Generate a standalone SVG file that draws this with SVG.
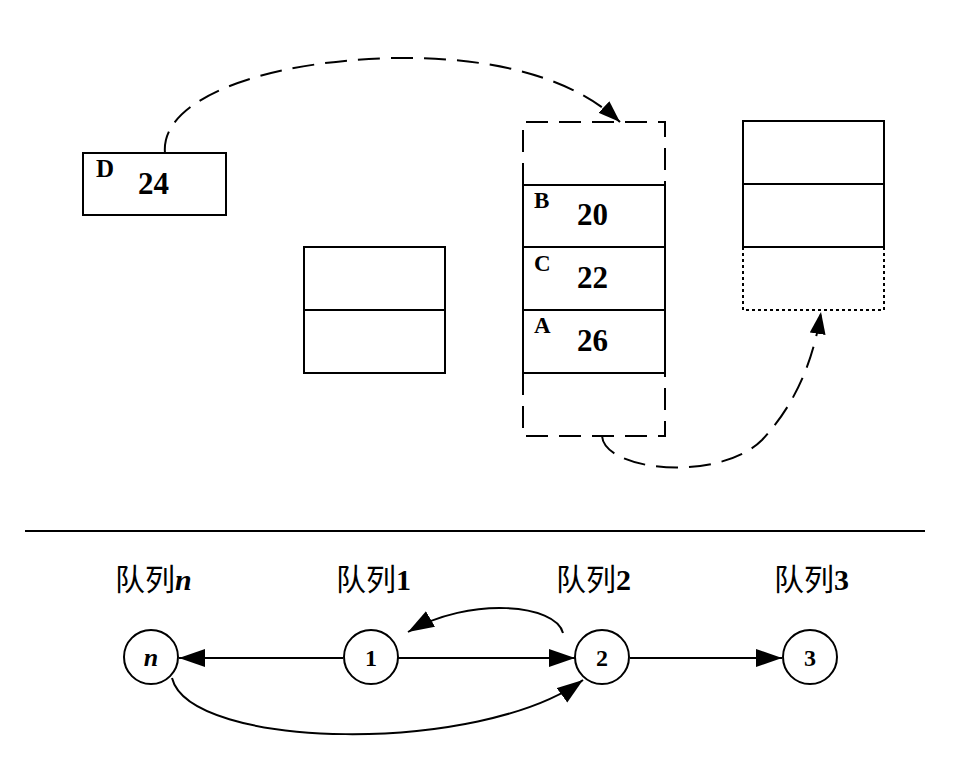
<svg xmlns="http://www.w3.org/2000/svg" width="956" height="774" viewBox="0 0 956 774">
<style>
.s{fill:none;stroke:#000;stroke-width:2}
.d{fill:none;stroke:#000;stroke-width:2;stroke-dasharray:22,11}
.dot{fill:none;stroke:#000;stroke-width:2;stroke-dasharray:3,3}
.t{font-family:"Liberation Serif","Times New Roman",serif;font-weight:bold;fill:#000}
.cjk{font-family:"Liberation Serif","Noto Sans CJK SC",serif;fill:#000;font-size:30px}
.c{fill:#fff;stroke:#000;stroke-width:2}
</style>
<defs>
<marker id="ah" markerUnits="userSpaceOnUse" markerWidth="28" markerHeight="20" refX="26" refY="9" orient="auto">
<path d="M0,0 L26,9 L0,18 Z" fill="#000"/>
</marker>
<marker id="ah2" markerUnits="userSpaceOnUse" markerWidth="24" markerHeight="20" refX="22" refY="8" orient="auto">
<path d="M0,0 L22,8 L0,16 Z" fill="#000"/>
</marker>
</defs>

<g id="boxD">
<rect x="83" y="153" width="143" height="62" class="s"/>
<text x="96" y="177" class="t" font-size="25">D</text>
<text x="138" y="194" class="t" font-size="31">24</text>
</g>

<g id="midBox">
<rect x="304" y="247" width="141" height="126" class="s"/>
<line x1="304" y1="310" x2="445" y2="310" class="s"/>
</g>

<g id="stack">
<path d="M523,185 V122 H665 V185" class="d"/>
<line x1="523" y1="185" x2="665" y2="185" class="s"/>
<line x1="523" y1="185" x2="523" y2="373" class="s"/>
<line x1="665" y1="185" x2="665" y2="373" class="s"/>
<line x1="523" y1="247" x2="665" y2="247" class="s"/>
<line x1="523" y1="310" x2="665" y2="310" class="s"/>
<line x1="523" y1="373" x2="665" y2="373" class="s"/>
<path d="M523,373 V436 H665 V373" class="d"/>
<text x="534" y="208" class="t" font-size="23">B</text>
<text x="577" y="225" class="t" font-size="31">20</text>
<text x="534" y="271" class="t" font-size="23">C</text>
<text x="577" y="288" class="t" font-size="31">22</text>
<text x="534" y="333" class="t" font-size="23">A</text>
<text x="577" y="351" class="t" font-size="31">26</text>
</g>

<g id="rightBox">
<rect x="743" y="121" width="141" height="126" class="s"/>
<line x1="743" y1="184" x2="884" y2="184" class="s"/>
<path d="M743,247 V310 H884 V247" class="dot"/>
</g>

<g id="connectors">
<path d="M165,153 C160,100 260,62 390,58 C500,56 575,80 620,122" class="d" marker-end="url(#ah2)"/>
<path d="M602,436 C605,472 720,482 762,440 C790,410 812,370 821,312" class="d" marker-end="url(#ah2)"/>
<line x1="25" y1="531" x2="925" y2="531" class="s"/>
<line x1="343" y1="658" x2="179" y2="658" class="s" marker-end="url(#ah)"/>
<line x1="398" y1="658" x2="575" y2="658" class="s" marker-end="url(#ah)"/>
<line x1="630" y1="658" x2="782" y2="658" class="s" marker-end="url(#ah)"/>
<path d="M563,633 C556,604 470,596 408,632" class="s" marker-end="url(#ah)"/>
<path d="M172,678 C190,750 480,755 583,680" class="s" marker-end="url(#ah)"/>
</g>

<g id="nodeN">
<circle cx="151" cy="657" r="27" class="c"/>
<text x="151" y="666" class="t" font-size="26" font-style="italic" text-anchor="middle">n</text>
<text x="115" y="590" class="cjk">队列<tspan class="t" font-style="italic" font-size="30">n</tspan></text>
</g>
<g id="node1">
<circle cx="371" cy="657" r="27" class="c"/>
<text x="371" y="666" class="t" font-size="24" text-anchor="middle">1</text>
<text x="336" y="590" class="cjk">队列<tspan class="t" font-size="30">1</tspan></text>
</g>
<g id="node2">
<circle cx="602" cy="657" r="27" class="c"/>
<text x="602" y="666" class="t" font-size="24" text-anchor="middle">2</text>
<text x="556" y="590" class="cjk">队列<tspan class="t" font-size="30">2</tspan></text>
</g>
<g id="node3">
<circle cx="810" cy="657" r="27" class="c"/>
<text x="810" y="666" class="t" font-size="24" text-anchor="middle">3</text>
<text x="774" y="590" class="cjk">队列<tspan class="t" font-size="30">3</tspan></text>
</g>
</svg>
